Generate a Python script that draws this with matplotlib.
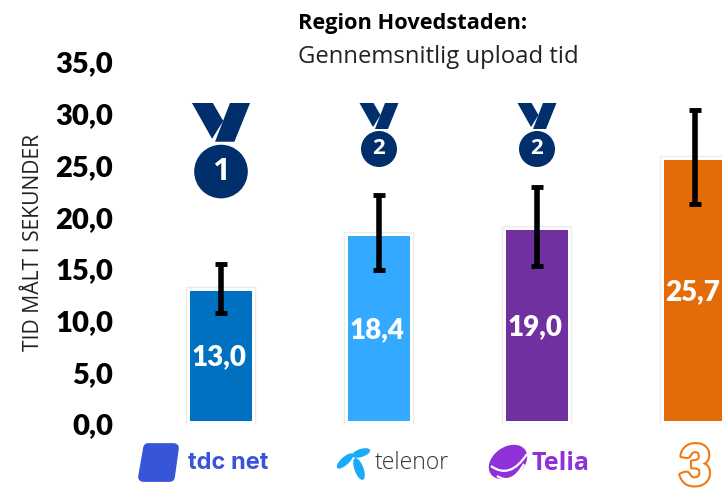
from matplotlib import pyplot as plt
from matplotlib import patheffects as pe
from matplotlib.patches import Circle, Ellipse, Polygon, PathPatch
from matplotlib.path import Path
import numpy as np

operators = ['tdc net', 'telenor', 'Telia', '3']
# printed labels and the bar tops as they sit on the picture differ a little
upload_labels = ['13,0', '18,4', '19,0', '25,7']
bar_tops = [12.9, 18.2, 18.8, 25.5]
err_low = [10.7, 14.9, 15.3, 21.3]
err_high = [15.5, 22.1, 22.9, 30.4]
bar_colors = ['#0070c0', '#33a9ff', '#7030a0', '#e36c09']
y_ticks = [0, 5, 10, 15, 20, 25, 30, 35]

W, H = 722, 496
fig = plt.figure(figsize=(W / 100, H / 100), dpi=100)
plt.rcParams['font.family'] = ['Lato', 'DejaVu Sans']

# axes placed so 0 and 35 land on the tick label rows
ax = fig.add_axes([118 / W, 1 - 424 / H, (W - 118) / W, 362 / H])
ax.set_xlim(-0.652, 3.171)
ax.set_ylim(0, 35)
for s in ax.spines.values():
    s.set_visible(False)

x = np.arange(len(operators))
vals = np.array(bar_tops)
base = 0.25
bars = ax.bar(x, vals - base, bottom=base, width=62 / 158, color=bar_colors, zorder=2)
for b in bars:
    b.set_path_effects([pe.Stroke(linewidth=6, foreground='#ececec'),
                        pe.Stroke(linewidth=4, foreground='white'),
                        pe.Normal()])

low = vals - np.array(err_low)
high = np.array(err_high) - vals
ax.errorbar(x, vals, yerr=[low, high], fmt='none', ecolor='black', elinewidth=4,
            capsize=4.3, capthick=3.5, zorder=3)

for i, lab in enumerate(upload_labels):
    ax.annotate(lab, (x[i], bar_tops[i] / 2), xytext=(-1.5, 0), textcoords='offset points',
                color='white', fontsize=20, fontweight='heavy', ha='center', va='center',
                zorder=4, family='Lato')

ax.set_xticks([])
ax.set_yticks(y_ticks)
ax.set_yticklabels([f'{t:.1f}'.replace('.', ',') for t in y_ticks], fontsize=21, fontweight='heavy')
ax.tick_params(axis='y', length=0, pad=3.5)
for lab in ax.get_yticklabels():
    lab.set_verticalalignment('center_baseline')

fig.text(34 / W, 1 - 242 / H, 'TID MÅLT I SEKUNDER', rotation=90, ha='center', va='center',
         fontsize=15.2, family='Open Sans', color='#222222')
fig.text(298 / W, 1 - 24 / H, 'Region Hovedstaden:', fontsize=15.7, fontweight='bold',
         family='Open Sans', va='center', color='black')
fig.text(298 / W, 1 - 57 / H, 'Gennemsnitlig upload tid', fontsize=17.2,
         family='Open Sans', va='center', color='#222222')

# overlay in pixel coordinates for medals and logos
ov = fig.add_axes([0, 0, 1, 1], facecolor='none', zorder=5)
ov.set_xlim(0, W)
ov.set_ylim(H, 0)
ov.axis('off')


def medal(cx, top, k, digit):
    navy = '#002f6c'
    left = [(-19.5, 0), (-5.5, 0), (1.5, 12), (-6, 24)]
    right = [(6, 0), (19.5, 0), (9, 26), (-4, 26)]
    for pts in (left, right):
        ov.add_patch(Polygon([(cx + a * k, top + b * k) for a, b in pts], closed=True, fc=navy, ec='none'))
    cy = top + 46 * k
    ov.add_patch(Circle((cx, cy), 18 * k, fc=navy, ec='none'))
    ov.text(cx, cy, digit, color='white', fontsize=13 * k + 3, fontweight='bold',
            ha='center', va='center', family='Open Sans')


medal(221, 103, 1.49, '1')
medal(379, 103, 1.0, '2')
medal(537, 103, 1.0, '2')

# tdc net
tdc = '#3755d8'
ov.add_patch(Polygon([(148, 448), (174, 448), (170, 477), (143, 477)], closed=True, fc=tdc, ec=tdc,
                     lw=7, joinstyle='round'))
ov.text(188, 463, 'tdc net', color=tdc, fontsize=17, fontweight='bold', family='Inter', va='center')

# telenor
tel = '#19aaf8'
ov.add_patch(Ellipse((345, 461), 21, 8, angle=-42, fc=tel, ec='none'))
ov.add_patch(Ellipse((361, 453), 19, 8, angle=-18, fc=tel, ec='none'))
ov.add_patch(Ellipse((359, 469), 23, 9, angle=70, fc=tel, ec='none'))
ov.text(375, 463, 'telenor', color='#333333', fontsize=16.5, family='Open Sans', fontweight='light', va='center')

# telia
telia = '#9030d8'
ov.add_patch(Ellipse((508, 462), 42, 30, angle=-35, fc=telia, ec='none'))
for pts in ([(491, 466), (510, 480), (527, 454)], [(497, 476), (512, 486), (524, 464)]):
    ov.add_patch(PathPatch(Path(pts, [Path.MOVETO, Path.CURVE3, Path.CURVE3]), fc='none', ec='white', lw=1.6))
ov.text(531, 464, 'Telia', color=telia, fontsize=18, fontweight='bold', family='Open Sans', va='center')

# 3
t3 = ov.text(695, 485, '3', color='white', fontsize=40, fontweight='heavy', family='Lato',
             ha='center', va='baseline', clip_on=False)
t3.set_path_effects([pe.Stroke(linewidth=3, foreground='#f07a12'), pe.Normal()])

fig.savefig('out.png', dpi=100)
